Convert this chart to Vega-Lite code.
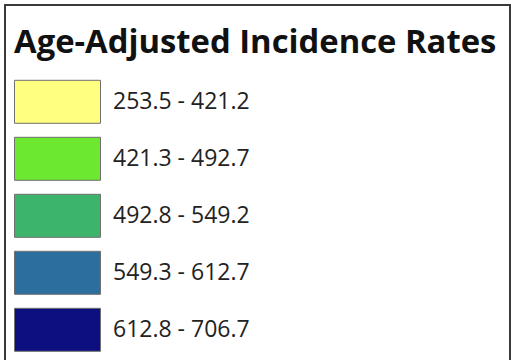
{
  "$schema": "https://vega.github.io/schema/vega-lite/v6.json",
  "width": 505,
  "height": 360,
  "padding": {"left": 5, "top": 5, "right": 1, "bottom": 0},
  "background": "white",
  "view": {"stroke": "#3a3a3a", "strokeWidth": 2, "fill": "white"},
  "config": {
    "view": {"stroke": "#3a3a3a", "strokeWidth": 2}
  },
  "data": {
    "values": [
      {"range": "253.5 - 421.2"},
      {"range": "421.3 - 492.7"},
      {"range": "492.8 - 549.2"},
      {"range": "549.3 - 612.7"},
      {"range": "612.8 - 706.7"}
    ]
  },
  "mark": {"type": "square", "opacity": 0},
  "encoding": {
    "color": {
      "field": "range",
      "type": "nominal",
      "scale": {
        "domain": ["253.5 - 421.2", "421.3 - 492.7", "492.8 - 549.2", "549.3 - 612.7", "612.8 - 706.7"],
        "range": ["#ffff80", "#6be82f", "#3cb46b", "#2c6e9e", "#0d0f80"]
      },
      "legend": {
        "title": "Age-Adjusted Incidence Rates",
        "orient": "none",
        "legendX": 9,
        "legendY": 22,
        "padding": 0,
        "titleFont": "Open Sans",
        "titleFontSize": 32.8,
        "titleFontWeight": "bold",
        "titleColor": "#111111",
        "titleLimit": 800,
        "titlePadding": 20,
        "labelFont": "Open Sans",
        "labelFontSize": 23,
        "labelColor": "#222222",
        "labelLimit": 800,
        "labelOffset": 55,
        "rowPadding": 9,
        "symbolType": "M-1,-1H3V1H-1Z",
        "symbolSize": 1849,
        "symbolOpacity": 1,
        "symbolStrokeColor": "#707070",
        "symbolStrokeWidth": 1
      }
    }
  }
}
